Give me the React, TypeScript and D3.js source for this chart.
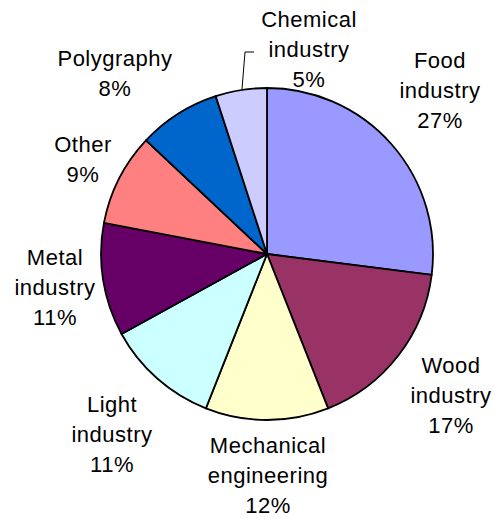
import React from "react";
import * as d3 from "d3";

const categories = [
  "Food industry",
  "Wood industry",
  "Mechanical engineering",
  "Light industry",
  "Metal industry",
  "Other",
  "Polygraphy",
  "Chemical industry",
];
const values = [27, 17, 12, 11, 11, 9, 8, 5];
const colors = ["#9999FF", "#993366", "#FFFFCC", "#CCFFFF", "#660066", "#FF8080", "#0066CC", "#CCCCFF"];
const labelLines = [
  ["Food", "industry", "27%"],
  ["Wood", "industry", "17%"],
  ["Mechanical", "engineering", "12%"],
  ["Light", "industry", "11%"],
  ["Metal", "industry", "11%"],
  ["Other", "9%"],
  ["Polygraphy", "8%"],
  ["Chemical", "industry", "5%"],
];
// label anchor: center x, first baseline y
const labelPos: [number, number][] = [
  [440, 68],
  [451, 373],
  [268, 453],
  [112, 412],
  [55, 265],
  [83, 152],
  [115, 66],
  [309, 27],
];

const W = 495;
const H = 518;
const cx = 267;
const cy = 254;
const R = 166;

export default function App() {
  const pie = d3.pie<number>().sort(null).value((d) => d)(values);
  const arc = d3.arc<d3.PieArcDatum<number>>().innerRadius(0).outerRadius(R);
  return (
    <svg
      width={W}
      height={H}
      style={{ position: "absolute", left: 0, top: 0, display: "block", background: "#fff" }}
      fontFamily="'Liberation Sans', Arial, sans-serif"
    >
      <g transform={`translate(${cx},${cy})`}>
        {pie.map((p, i) => (
          <path key={categories[i]} d={arc(p) || ""} fill={colors[i]} stroke="#000" strokeWidth={1.8} strokeLinejoin="round" />
        ))}
      </g>
      <polyline points="242,89 245,52 254,52" fill="none" stroke="#000" strokeWidth={1} />
      {labelLines.map((lines, i) => (
        <text key={categories[i]} textAnchor="middle" fontSize={22} letterSpacing={0.5} fill="#000">
          {lines.map((l, j) => (
            <tspan key={j} x={labelPos[i][0]} y={labelPos[i][1] + j * 30}>
              {l}
            </tspan>
          ))}
        </text>
      ))}
    </svg>
  );
}
